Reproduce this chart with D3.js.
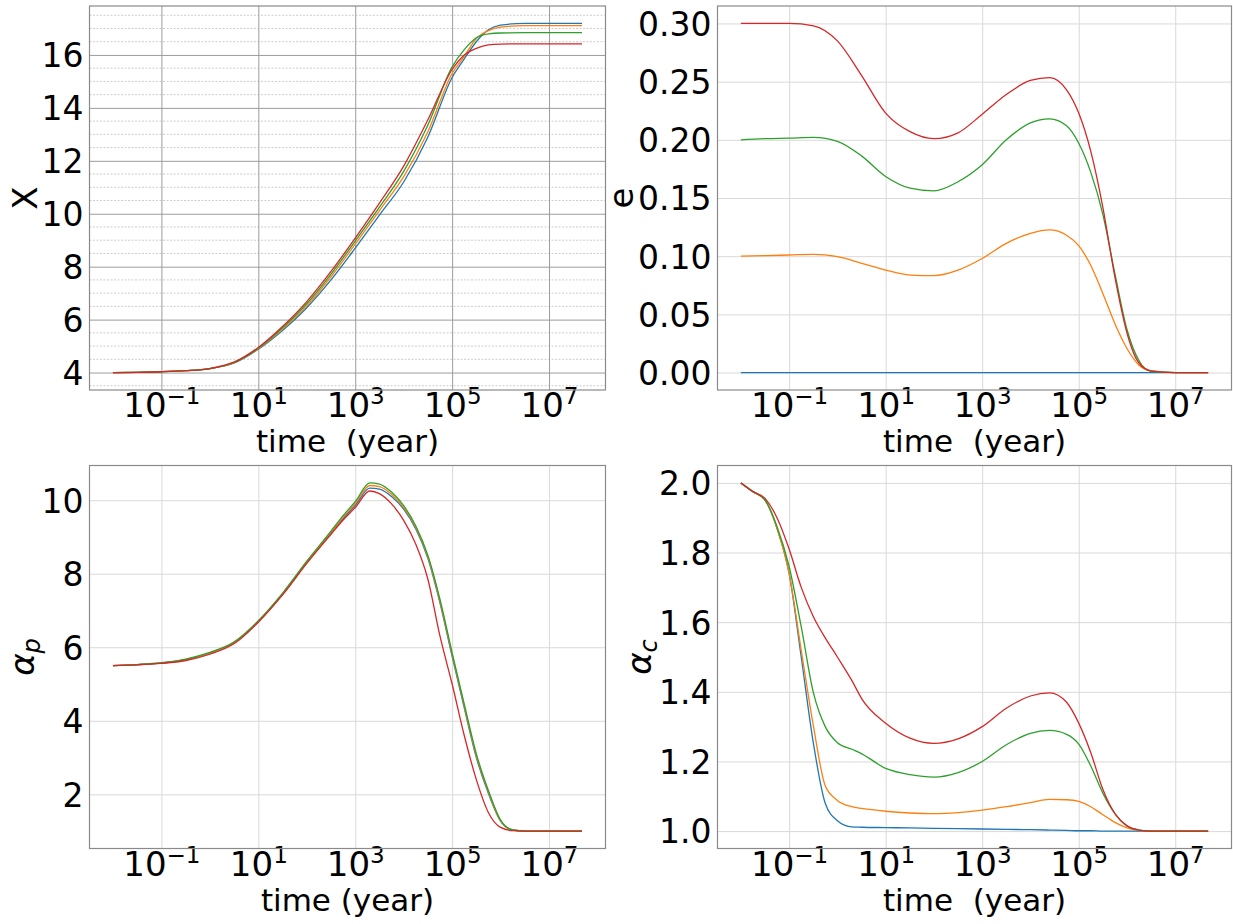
<!DOCTYPE html>
<html lang="en">
<head>
<meta charset="utf-8">
<title>X, e, alpha_p, alpha_c versus time</title>
<script src="https://d3js.org/d3.v7.min.js"></script>
<style>
  body { margin: 0; background: #fff; }
  svg text { font-family: "DejaVu Sans", sans-serif; fill: #000; white-space: pre; }
</style>
</head>
<body>
<svg id="chart" width="1233" height="924"></svg>
<script>
// ---- data ----
var runNames = ["e0 = 0.0", "e0 = 0.1", "e0 = 0.2", "e0 = 0.3"];
var colors = ["#1f77b4", "#ff7f0e", "#2ca02c", "#d62728"];

// time in years
var timeX = [1e-2, 3.2e-2, 1e-1, 3.2e-1, 1, 3.2, 10, 32, 100, 316, 1e3, 3.16e3, 1e4, 3.16e4,
             1e5, 1.78e5, 3.16e5, 5.62e5, 1e6, 3.16e6, 1e7, 4.8e7];
var xBlue   = [4.0, 4.01, 4.03, 4.07, 4.15, 4.36, 4.88, 5.60, 6.45, 7.50, 8.70, 9.95, 11.2, 12.9,
               15.15, 15.85, 16.5, 16.95, 17.13, 17.19, 17.19, 17.19];
var xOrange = [4.0, 4.01, 4.03, 4.07, 4.15, 4.37, 4.90, 5.65, 6.52, 7.62, 8.85, 10.12, 11.4, 13.1,
               15.3, 15.95, 16.62, 16.92, 17.05, 17.11, 17.11, 17.11];
var xGreen  = [4.0, 4.01, 4.03, 4.07, 4.15, 4.38, 4.92, 5.70, 6.60, 7.72, 8.97, 10.25, 11.6, 13.35,
               15.55, 16.2, 16.65, 16.8, 16.83, 16.84, 16.84, 16.84];
var xRed    = [4.0, 4.01, 4.03, 4.07, 4.15, 4.40, 4.95, 5.75, 6.68, 7.82, 9.08, 10.4, 11.8, 13.55,
               15.45, 16.0, 16.25, 16.38, 16.41, 16.42, 16.42, 16.42];

var timeE = [1e-2, 3.2e-2, 1e-1, 3.2e-1, 1, 3.2, 10, 32, 100, 316, 1e3, 3.16e3, 1e4, 2.5e4,
             5.6e4, 1e5, 1.78e5, 3.16e5, 5.62e5, 1e6, 1.78e6, 3.16e6, 1e7, 4.8e7];
var eBlue   = [0, 0, 0, 0, 0, 0, 0, 0, 0, 0, 0, 0, 0, 0, 0, 0, 0, 0, 0, 0, 0, 0, 0, 0];
var eOrange = [0.100, 0.1005, 0.101, 0.1016, 0.0996, 0.0939, 0.0881, 0.0838, 0.0833, 0.088, 0.098,
               0.111, 0.1197, 0.1226, 0.118, 0.109, 0.092, 0.068, 0.042, 0.0207, 0.0063, 0.0015, 0, 0];
var eGreen  = [0.200, 0.201, 0.2015, 0.2021, 0.1987, 0.186, 0.1685, 0.1585, 0.1562, 0.164, 0.1786,
               0.200, 0.2145, 0.218, 0.212, 0.197, 0.172, 0.136, 0.085, 0.037, 0.010, 0.001, 0, 0];
var eRed    = [0.300, 0.300, 0.300, 0.298, 0.285, 0.255, 0.223, 0.207, 0.201, 0.206, 0.222,
               0.239, 0.251, 0.2535, 0.243, 0.223, 0.190, 0.142, 0.082, 0.034, 0.008, 0.0015, 0, 0];

var timeP = [1e-2, 3.2e-2, 1e-1, 3.2e-1, 1, 3.2, 10, 32, 100, 316, 562, 1e3, 2e3, 3.16e3, 5.62e3,
             1e4, 1.78e4, 3.16e4, 5.62e4, 1e5, 1.78e5, 3.16e5, 5.62e5, 1e6, 1.78e6, 3.16e6, 1e7, 4.8e7];
var pBlue   = [5.5, 5.53, 5.57, 5.66, 5.84, 6.13, 6.70, 7.45, 8.30, 9.10, 9.50, 9.86, 10.33, 10.30, 10.10,
               9.76, 9.22, 8.42, 7.20, 5.75, 4.35, 3.00, 2.02, 1.27, 1.03, 1.0, 1.0, 1.0];
var pOrange = [5.5, 5.53, 5.57, 5.67, 5.85, 6.14, 6.71, 7.46, 8.32, 9.13, 9.54, 9.91, 10.40, 10.37, 10.16,
               9.80, 9.26, 8.46, 7.25, 5.80, 4.40, 3.05, 2.06, 1.28, 1.03, 1.0, 1.0, 1.0];
var pGreen  = [5.5, 5.53, 5.58, 5.68, 5.86, 6.15, 6.72, 7.48, 8.34, 9.16, 9.58, 9.96, 10.47, 10.44, 10.22,
               9.85, 9.30, 8.50, 7.30, 5.85, 4.45, 3.10, 2.10, 1.30, 1.03, 1.0, 1.0, 1.0];
var pRed    = [5.5, 5.52, 5.56, 5.64, 5.81, 6.10, 6.68, 7.43, 8.28, 9.07, 9.46, 9.80, 10.25, 10.18, 9.90,
               9.45, 8.80, 7.85, 6.30, 5.00, 3.60, 2.40, 1.50, 1.10, 1.01, 1.0, 1.0, 1.0];

var timeC = [1e-2, 1.78e-2, 3.2e-2, 5.6e-2, 1e-1, 1.78e-1, 3.2e-1, 5.6e-1, 1, 2, 3.2, 10, 32, 100,
             316, 1e3, 3.16e3, 1e4, 2.5e4, 5.6e4, 1e5, 1.78e5, 3.16e5, 5.62e5, 1e6, 1.78e6, 3.16e6, 1e7, 4.8e7];
var cBlue   = [2.0, 1.975, 1.95, 1.87, 1.74, 1.50, 1.25, 1.08, 1.03, 1.012, 1.011, 1.010, 1.009, 1.008,
               1.007, 1.006, 1.005, 1.004, 1.003, 1.002, 1.001, 1.001, 1.0, 1.0, 1.0, 1.0, 1.0, 1.0, 1.0];
var cOrange = [2.0, 1.975, 1.95, 1.87, 1.74, 1.52, 1.30, 1.13, 1.088, 1.07, 1.065, 1.057, 1.052, 1.05,
               1.053, 1.06, 1.07, 1.082, 1.091, 1.09, 1.085, 1.07, 1.047, 1.025, 1.009, 1.002, 1.0, 1.0, 1.0];
var cGreen  = [2.0, 1.975, 1.95, 1.875, 1.76, 1.587, 1.396, 1.30, 1.254, 1.235, 1.222, 1.18, 1.162, 1.155,
               1.168, 1.20, 1.248, 1.281, 1.289, 1.278, 1.25, 1.187, 1.109, 1.05, 1.015, 1.003, 1.0, 1.0, 1.0];
var cRed    = [2.0, 1.975, 1.955, 1.90, 1.81, 1.70, 1.615, 1.555, 1.50, 1.432, 1.38, 1.31, 1.267, 1.252,
               1.265, 1.30, 1.353, 1.388, 1.397, 1.37, 1.31, 1.225, 1.12, 1.05, 1.015, 1.003, 1.0, 1.0, 1.0];

// tick values / labels
var xTickVals = [1e-1, 1e1, 1e3, 1e5, 1e7];
var xTickExps = ["\u22121", "1", "3", "5", "7"];
var yTicksX = [4, 6, 8, 10, 12, 14, 16];
var yTicksE = [0, 0.05, 0.10, 0.15, 0.20, 0.25, 0.30];
var yTicksP = [2, 4, 6, 8, 10];
var yTicksC = [1.0, 1.2, 1.4, 1.6, 1.8, 2.0];

// ---- drawing ----
var svg = d3.select("#chart");

function drawPanel(p) {
  var w = p.right - p.left, h = p.bottom - p.top;
  var g = svg.append("g").attr("transform", "translate(" + p.left + "," + p.top + ")");

  // matplotlib-like 5% margins
  var lo = Math.log10(d3.min(p.times)), hi = Math.log10(d3.max(p.times));
  var mx = (hi - lo) * 0.05;
  var x = d3.scaleLog().domain([Math.pow(10, lo - mx), Math.pow(10, hi + mx)]).range([0, w]);
  var all = d3.merge(p.series);
  var ylo = d3.min(all), yhi = d3.max(all), my = (yhi - ylo) * 0.05;
  var y = d3.scaleLinear().domain([ylo - my, yhi + my]).range([h, 0]);

  // minor horizontal grid (dotted)
  if (p.minorStep) {
    var minors = d3.range(Math.ceil(y.domain()[0] / p.minorStep) * p.minorStep, y.domain()[1], p.minorStep)
      .filter(function(v) { return p.yTicks.indexOf(Math.round(v * 1000) / 1000) < 0; });
    g.selectAll(".minor").data(minors).enter().append("line")
      .attr("x1", 0).attr("x2", w)
      .attr("y1", function(d) { return y(d); }).attr("y2", function(d) { return y(d); })
      .attr("stroke", "#cdcdcd").attr("stroke-width", 1).attr("stroke-dasharray", "2,1.5");
  }

  // x axis: grid + 10^n labels
  var xa = g.append("g").attr("transform", "translate(0," + h + ")")
    .call(d3.axisBottom(x).tickValues(xTickVals).tickSize(-h).tickFormat(""));
  xa.select(".domain").remove();
  xa.attr("font-family", "DejaVu Sans");
  xa.selectAll(".tick line").attr("stroke", p.gridColor).attr("stroke-width", 1);
  xa.selectAll(".tick").append("text")
    .attr("y", 27).attr("text-anchor", "middle").attr("font-size", 34)
    .each(function(d, i) {
      var t = d3.select(this);
      t.append("tspan").text("10");
      t.append("tspan").attr("dy", -12.6).attr("font-size", 23).text(xTickExps[i]);
    });

  // y axis: grid + labels
  var ya = g.append("g")
    .call(d3.axisLeft(y).tickValues(p.yTicks).tickSize(-w).tickPadding(6).tickFormat(d3.format(p.fmt)));
  ya.select(".domain").remove();
  ya.selectAll(".tick line").attr("stroke", p.gridColor).attr("stroke-width", 1);
  ya.selectAll(".tick text").attr("font-size", 33).attr("font-family", "DejaVu Sans").attr("fill", "#000")
    .attr("dy", "0.36em");

  // frame
  g.append("rect").attr("width", w).attr("height", h)
    .attr("fill", "none").attr("stroke", "#8a8a8a").attr("stroke-width", 1.2);

  // curves
  var line = d3.line()
    .x(function(d) { return x(d[0]); })
    .y(function(d) { return y(d[1]); })
    .curve(d3.curveMonotoneX);
  p.series.forEach(function(s, i) {
    g.append("path")
      .datum(p.times.map(function(t, j) { return [t, s[j]]; }))
      .attr("fill", "none").attr("stroke", colors[i]).attr("stroke-width", 1.3)
      .attr("d", line);
  });

  // x label
  g.append("text").attr("x", w / 2).attr("y", h + 62).attr("text-anchor", "middle")
    .attr("font-size", 31).text(p.xlabel);

  // y label, its baseline just left of the widest tick label
  var tickLeft = d3.min(ya.selectAll(".tick text").nodes(), function(n) { return n.getBoundingClientRect().left; });
  var yl = svg.append("text").attr("text-anchor", "middle").attr("font-size", 34)
    .attr("transform", "translate(" + (tickLeft - p.labelGap) + "," + (p.top + h / 2) + ") rotate(-90)");
  p.ylabel(yl);
}

var L = [89.5, 605.5], R = [717.5, 1231.5], T = [6, 390], B = [465.5, 848.5];

drawPanel({
  left: L[0], right: L[1], top: T[0], bottom: T[1],
  times: timeX, series: [xBlue, xOrange, xGreen, xRed],
  yTicks: yTicksX, fmt: "d", gridColor: "#9c9c9c", minorStep: 0.5,
  xlabel: "time  (year)", labelGap: 5,
  ylabel: function(t) { t.text("X"); }
});
drawPanel({
  left: R[0], right: R[1], top: T[0], bottom: T[1],
  times: timeE, series: [eBlue, eOrange, eGreen, eRed],
  yTicks: yTicksE, fmt: ".2f", gridColor: "#d9d9d9",
  xlabel: "time  (year)", labelGap: 5,
  ylabel: function(t) { t.text("e"); }
});
drawPanel({
  left: L[0], right: L[1], top: B[0], bottom: B[1],
  times: timeP, series: [pBlue, pOrange, pGreen, pRed],
  yTicks: yTicksP, fmt: "d", gridColor: "#d9d9d9",
  xlabel: "time (year)", labelGap: 8,
  ylabel: function(t) {
    t.append("tspan").attr("font-style", "italic").attr("font-size", 34).text("\u03b1");
    t.append("tspan").attr("font-style", "italic").attr("font-size", 24).attr("dy", 6).text("p");
  }
});
drawPanel({
  left: R[0], right: R[1], top: B[0], bottom: B[1],
  times: timeC, series: [cBlue, cOrange, cGreen, cRed],
  yTicks: yTicksC, fmt: ".1f", gridColor: "#d9d9d9",
  xlabel: "time  (year)", labelGap: 8,
  ylabel: function(t) {
    t.append("tspan").attr("font-style", "italic").attr("font-size", 34).text("\u03b1");
    t.append("tspan").attr("font-style", "italic").attr("font-size", 24).attr("dy", 6).text("c");
  }
});
</script>
</body>
</html>
